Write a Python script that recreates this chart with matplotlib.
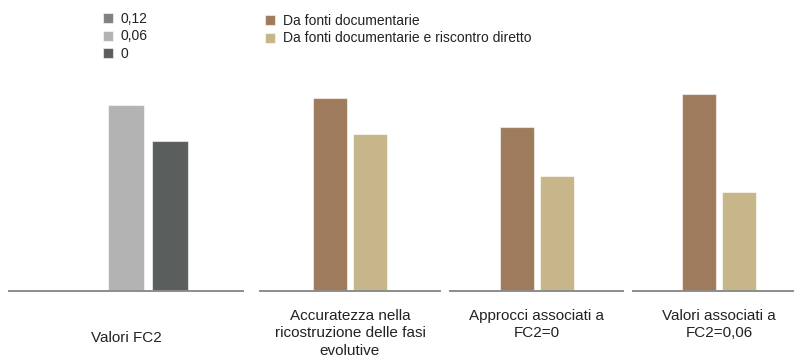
import matplotlib
matplotlib.use("Agg")
import matplotlib.pyplot as plt

plt.rcParams['font.family'] = ['Liberation Sans', 'DejaVu Sans']

# ---- data ----
categories = [
    "Valori FC2",
    "Accuratezza nella\nricostruzione delle fasi\nevolutive",
    "Approcci associati a\nFC2=0",
    "Valori associati a\nFC2=0,06",
]
fc2_labels = ["0,12", "0,06", "0"]
fc2_values = [0.0, 92.9, 75.0]
source_labels = ["Da fonti documentarie", "Da fonti documentarie e riscontro diretto"]
accuratezza = [96.5, 78.2]
approcci_fc2_0 = [81.7, 57.2]
valori_fc2_006 = [98.4, 49.2]

fc2_colors = ["#7e8380", "#b3b3b3", "#5a5e5c"]
source_colors = ["#9e7b5c", "#c6b68a"]

W, H = 794, 361
fig = plt.figure(figsize=(W / 100, H / 100), dpi=100)

# panel extents in pixels (left, right)
panels_px = [(9, 243), (260, 440), (450, 623), (633, 805)]
base_y = 290.7
top_y = 90.7

def make_ax(l, r):
    ax = fig.add_axes([l / W, 1 - base_y / H, (r - l) / W, (base_y - top_y) / H])
    w = (r - l) / 100.0
    ax.set_xlim(-w / 2, w / 2)
    ax.set_ylim(0, 100)
    for s in ["top", "right", "left"]:
        ax.spines[s].set_visible(False)
    ax.spines["bottom"].set_color("#8c8c8c")
    ax.spines["bottom"].set_linewidth(1.4)
    ax.set_xticks([])
    ax.set_yticks([])
    ax.patch.set_alpha(0)
    return ax

edge = dict(edgecolor=(1, 1, 1, 0.55), linewidth=0.8)

axes = [make_ax(l, r) for l, r in panels_px]

# panel 1: FC2 values
fc2_handles = []
offs1 = [-0.44, 0.0, 0.44]
for i in range(3):
    b = axes[0].bar(offs1[i], fc2_values[i], width=0.36, color=fc2_colors[i],
                    label=fc2_labels[i], **edge)
    fc2_handles.append(b)

# panels 2-4
groups = [accuratezza, approcci_fc2_0, valori_fc2_006]
offs2 = [-0.2, 0.2]
src_handles = []
for ax, vals in zip(axes[1:], groups):
    for j in range(2):
        b = ax.bar(offs2[j], vals[j], width=0.34, color=source_colors[j],
                   label=source_labels[j], **edge)
        if ax is axes[1]:
            src_handles.append(b)

# category labels
def px_to_data(py):
    return -(py - base_y) / (base_y - top_y) * 100

for ax, lab in zip(axes, categories):
    if "\n" in lab:
        y, va = px_to_data(309), "top"
    else:
        y, va = px_to_data(338), "center"
    ax.text(0, y, lab, ha="center", va=va,
            multialignment="center", fontsize=11, color="#222222", linespacing=1.3,
            transform=ax.transData, clip_on=False)

leg_kw = dict(loc="upper left", frameon=False, borderpad=0, borderaxespad=0,
              handlelength=0.72, handleheight=0.72, handletextpad=0.55,
              labelspacing=0.25, fontsize=10, labelcolor="#222222")
fig.legend(fc2_handles, fc2_labels, bbox_to_anchor=(103 / W, 1 - 12 / H), **leg_kw)
fig.legend(src_handles, source_labels, bbox_to_anchor=(265 / W, 1 - 14 / H), **leg_kw)

fig.savefig("out.png", dpi=100)
